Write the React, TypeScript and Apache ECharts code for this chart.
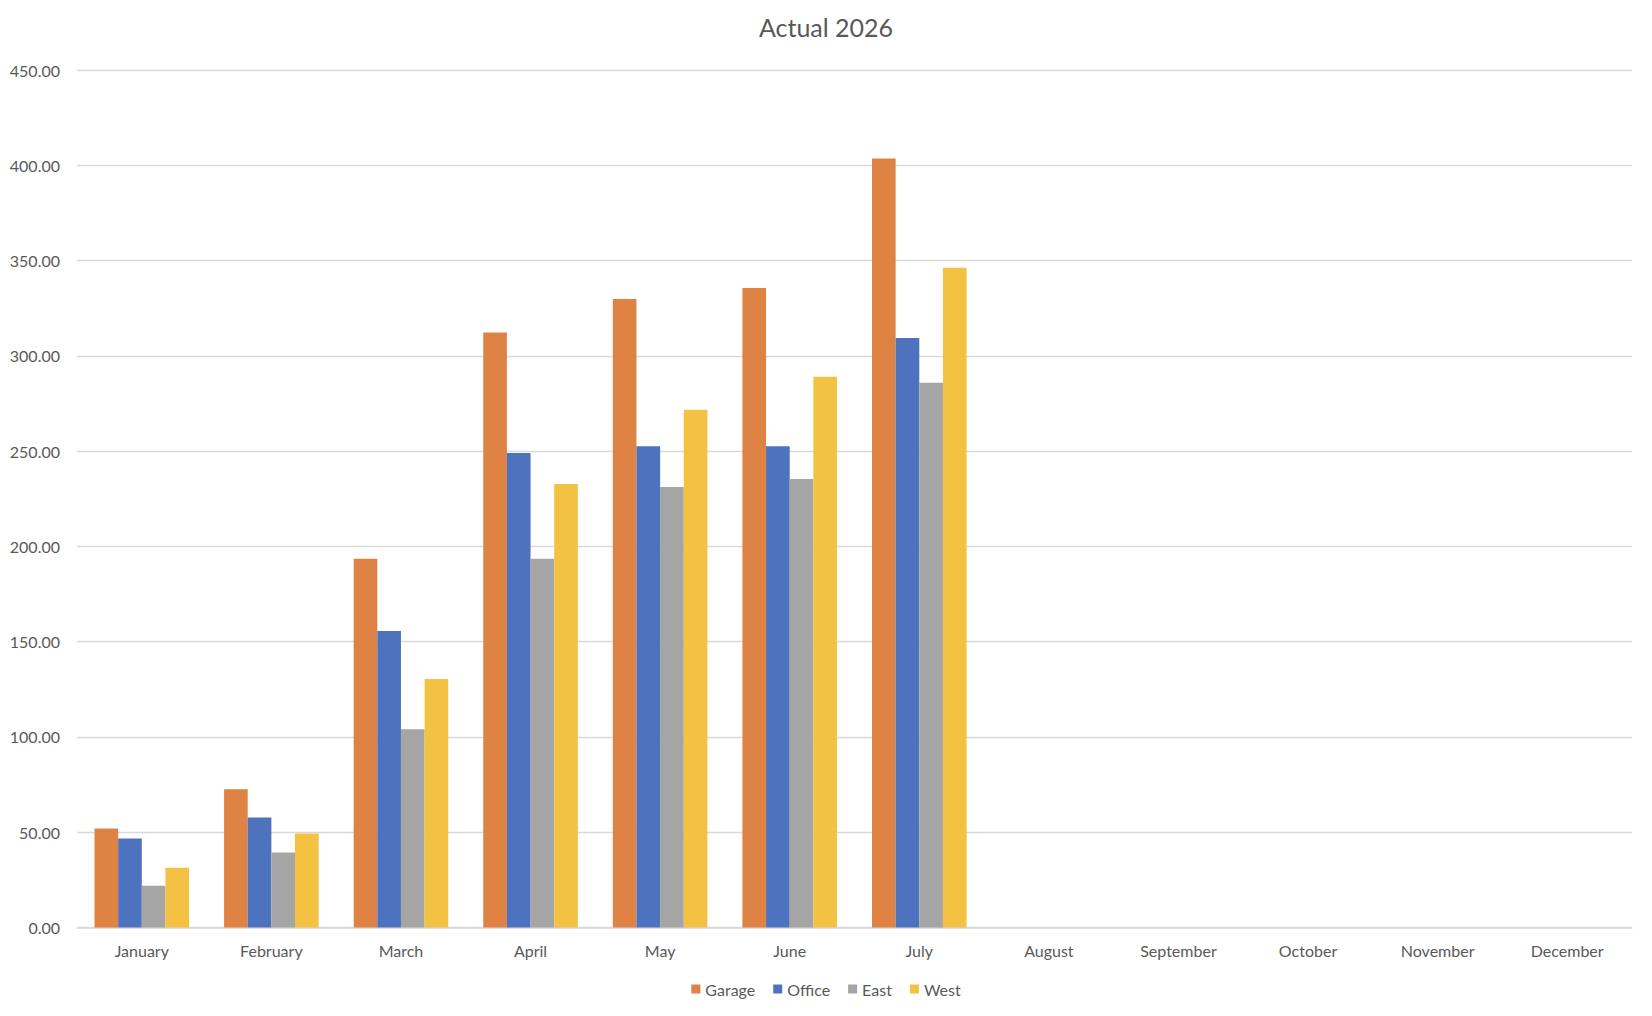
import React, { useEffect, useRef } from "react";
import * as echarts from "echarts";

const months = ["January","February","March","April","May","June","July","August","September","October","November","December"];
const garage = [51.9, 72.5, 193.5, 312.2, 329.8, 335.6, 403.5];
const office = [46.7, 57.7, 155.6, 249.0, 252.6, 252.6, 309.4];
const east = [21.9, 39.3, 104.0, 193.5, 231.2, 235.3, 285.9];
const west = [31.4, 49.3, 130.4, 232.7, 271.7, 289.0, 346.2];
const seriesNames = ["Garage", "Office", "East", "West"];
const colors = ["#DF8344", "#4D72BE", "#A5A5A5", "#F4C242"];

const FONT = "Lato, 'Open Sans', sans-serif";

export default function App() {
  const ref = useRef<HTMLDivElement>(null);
  useEffect(() => {
    document.body.style.margin = "0";
    if (!ref.current) return;
    const chart = echarts.init(ref.current, null, { renderer: "svg" });
    const data = [garage, office, east, west];
    chart.setOption({
      animation: false,
      backgroundColor: "#ffffff",
      textStyle: { fontFamily: FONT },
      title: {
        text: "Actual 2026",
        left: "center",
        top: 9,
        textStyle: { fontFamily: FONT, fontSize: 25, fontWeight: "normal", color: "#595959" },
      },
      legend: {
        bottom: 14,
        left: "center",
        itemWidth: 9,
        itemHeight: 9,
        itemGap: 18,
        icon: "rect",
        textStyle: { fontFamily: FONT, fontSize: 16, color: "#595959", padding: [0, 0, 0, 0] },
        data: seriesNames,
      },
      grid: { left: 77, right: 20, top: 70, bottom: 88.5, containLabel: false },
      xAxis: {
        type: "category",
        data: months,
        axisLine: { lineStyle: { color: "#D9D9D9", width: 1.5 } },
        axisTick: { show: false },
        axisLabel: { fontFamily: FONT, fontSize: 16, color: "#595959", margin: 15, interval: 0 },
      },
      yAxis: {
        type: "value",
        min: 0,
        max: 450,
        interval: 50,
        axisLine: { show: false },
        axisTick: { show: false },
        splitLine: { lineStyle: { color: "#D9D9D9", width: 1.3 } },
        axisLabel: {
          fontFamily: FONT,
          fontSize: 16,
          color: "#595959",
          margin: 17,
          formatter: (v: number) => v.toFixed(2),
        },
      },
      series: seriesNames.map((name, i) => ({
        name,
        type: "bar",
        data: data[i],
        barGap: "0%",
        barCategoryGap: "27%",
        itemStyle: { color: colors[i] },
      })),
    });
    return () => chart.dispose();
  }, []);
  return <div ref={ref} style={{ width: 1652, height: 1016 }} />;
}
